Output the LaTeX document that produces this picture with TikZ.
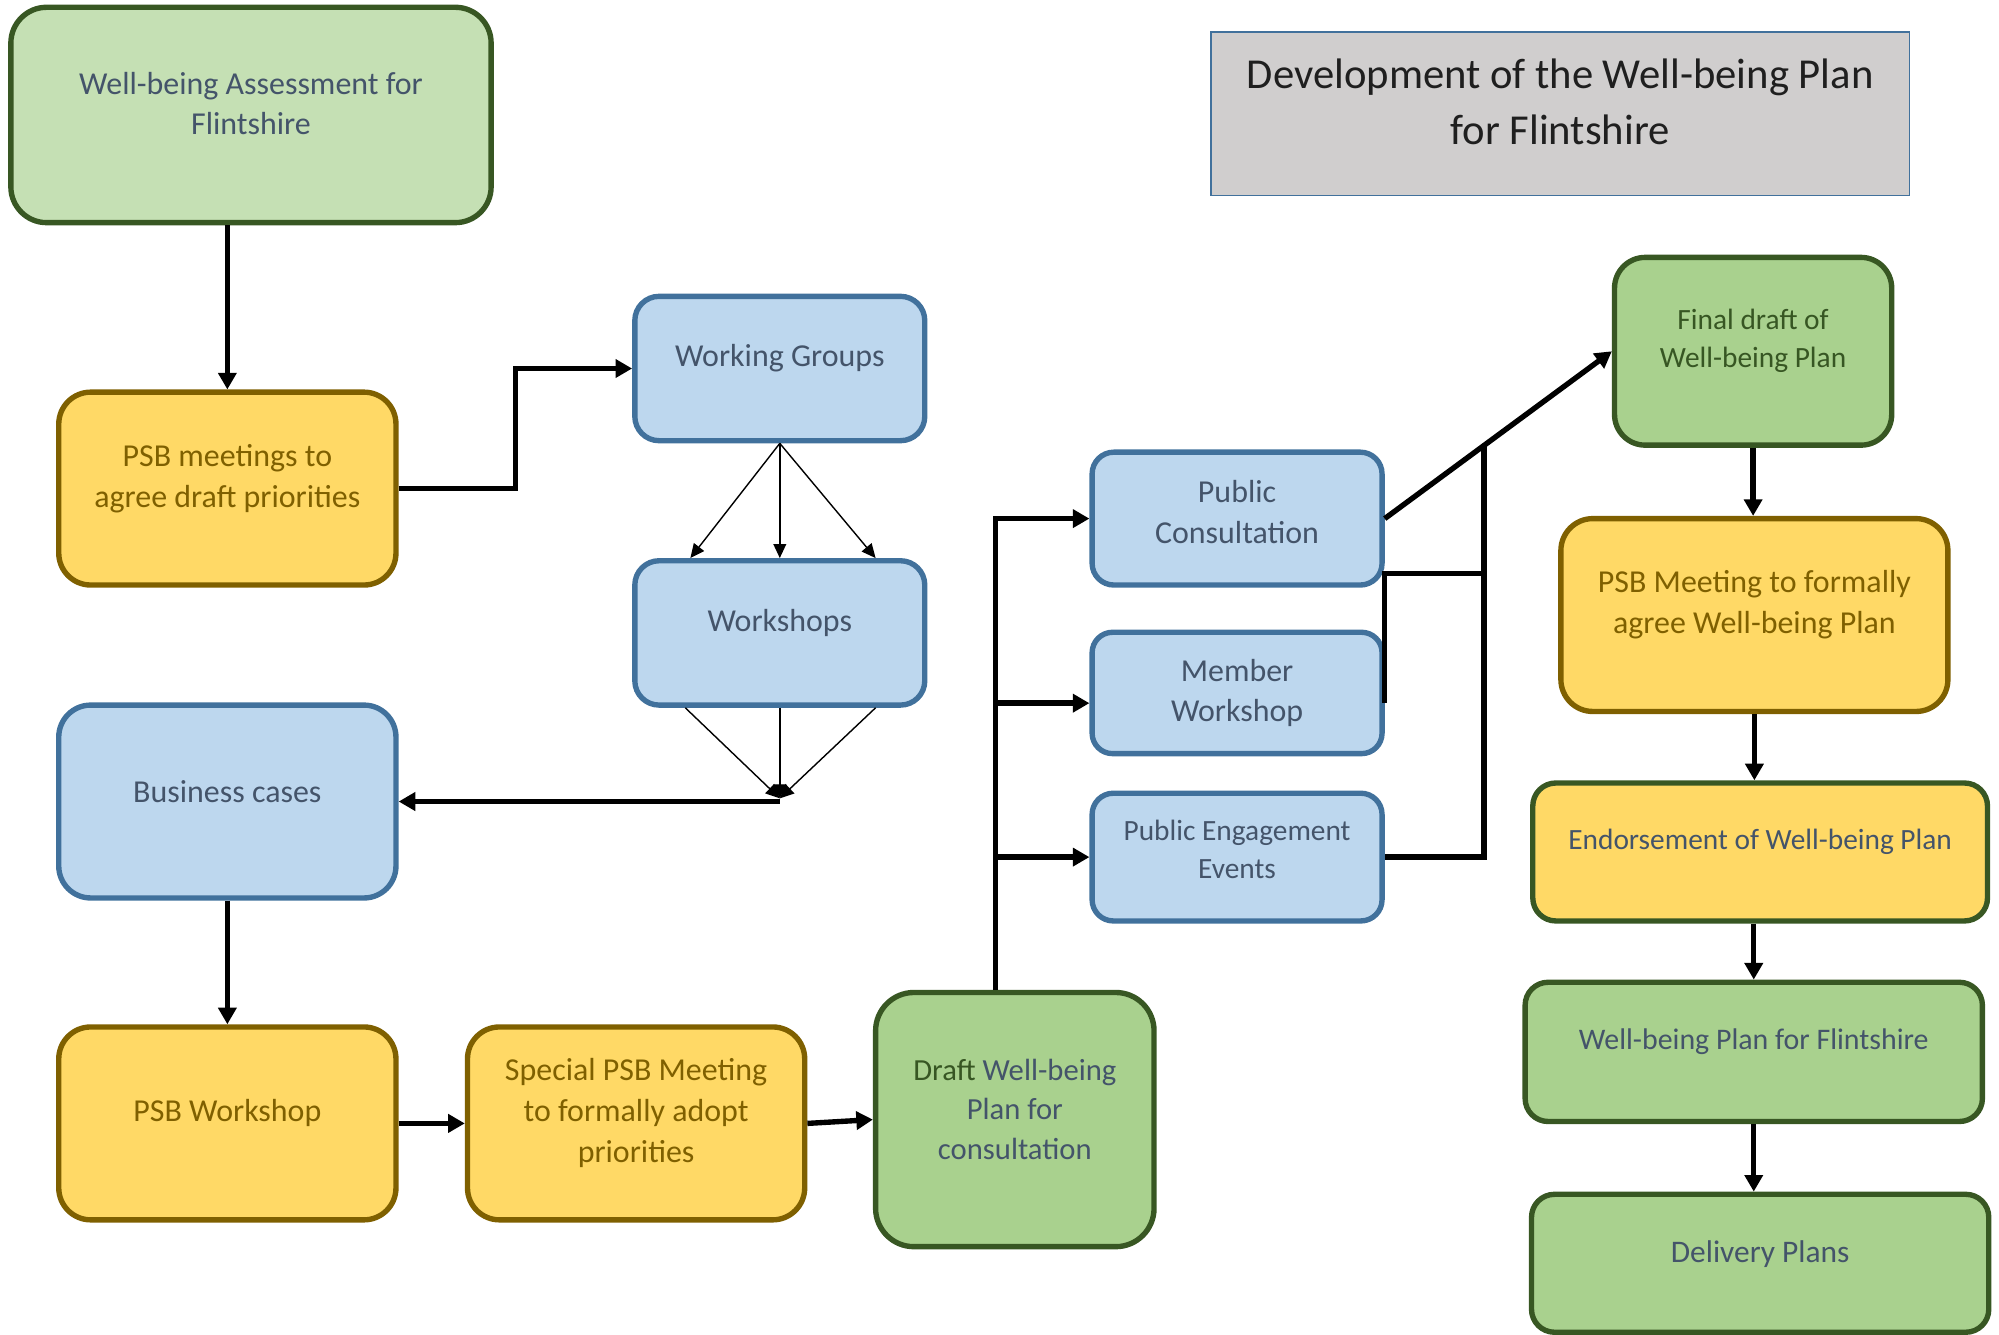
\documentclass[tikz,border=0pt]{standalone}
\usepackage{fontspec}
\setmainfont{Carlito}
\usetikzlibrary{arrows.meta,calc}
\definecolor{gfillA}{HTML}{C5E0B4}
\definecolor{gfill}{HTML}{A9D18E}
\definecolor{gline}{HTML}{385723}
\definecolor{yfill}{HTML}{FFD966}
\definecolor{yline}{HTML}{7F6000}
\definecolor{bfill}{HTML}{BDD7EE}
\definecolor{bline}{HTML}{41719C}
\definecolor{tfill}{HTML}{D0CECE}
\definecolor{tblue}{HTML}{44546A}
\definecolor{tolive}{HTML}{7F6000}
\definecolor{tgreen}{HTML}{375623}
\begin{document}
\begin{tikzpicture}[x=0.5pt,y=-0.5pt,
  boxbase/.style={draw, line width=2.1pt, rectangle, inner sep=0pt},
  gboxA/.style={boxbase, fill=gfillA, draw=gline},
  gbox/.style={boxbase, fill=gfill, draw=gline},
  ybox/.style={boxbase, fill=yfill, draw=yline},
  ygbox/.style={boxbase, fill=yfill, draw=gline},
  bbox/.style={boxbase, fill=bfill, draw=bline},
  titlebox/.style={draw=bline, fill=tfill, line width=0.7pt, rectangle, inner sep=0pt},
  tx/.style={align=center, inner sep=0pt},
  tbig/.style={tx, font=\fontsize{12.5}{16}\selectfont},
  tsmall/.style={tx, font=\fontsize{11.5}{15}\selectfont},
  tmid/.style={tx, font=\fontsize{12}{15.5}\selectfont},
  ttitle/.style={tx, font=\fontsize{16.7}{22}\selectfont, text=black!88},
  conn/.style={line width=2.1pt, draw=black},
  arr/.style={-{Triangle[length=6.5pt,width=7pt]}},
  thinarr/.style={line width=0.55pt, draw=black, -{Triangle[length=5.5pt,width=5pt]}},
]
\useasboundingbox (0,0) rectangle (1565,1045);

% ---------- boxes ----------
\node[titlebox, minimum width=273.5pt, minimum height=64pt] (title) at (1221.5,89) {};
\node[gboxA, minimum width=188pt, minimum height=84.3pt, rounded corners=14pt] (assess) at (196.5,90) {};
\node[ybox, minimum width=132pt, minimum height=75.5pt, rounded corners=12.5pt] (psbm) at (178,382.5) {};
\node[bbox, minimum width=113.5pt, minimum height=56.5pt, rounded corners=9.5pt] (wg) at (610.5,288.5) {};
\node[bbox, minimum width=113.5pt, minimum height=56.5pt, rounded corners=9.5pt] (ws) at (610.5,495.5) {};
\node[bbox, minimum width=132pt, minimum height=75.5pt, rounded corners=12.5pt] (bc) at (178,627.5) {};
\node[ybox, minimum width=132pt, minimum height=75.5pt, rounded corners=12.5pt] (psbw) at (178,879.5) {};
\node[ybox, minimum width=132pt, minimum height=75.5pt, rounded corners=12.5pt] (spec) at (498,879.5) {};
\node[gbox, minimum width=109pt, minimum height=99.5pt, rounded corners=15pt] (draft) at (794.5,876.5) {};
\node[bbox, minimum width=113.5pt, minimum height=52pt, rounded corners=8.5pt] (pc) at (968.5,406) {};
\node[bbox, minimum width=113.5pt, minimum height=47.5pt, rounded corners=8pt] (mw) at (968.5,542.5) {};
\node[bbox, minimum width=113.5pt, minimum height=50pt, rounded corners=8.3pt] (pe) at (968.5,671) {};
\node[gbox, minimum width=108.5pt, minimum height=73.5pt, rounded corners=12pt] (fd) at (1372.5,275) {};
\node[ybox, minimum width=151.5pt, minimum height=75.5pt, rounded corners=12.5pt] (psbf) at (1373.5,481.5) {};
\node[ygbox, minimum width=178pt, minimum height=54pt, rounded corners=9pt] (endo) at (1378,667) {};
\node[gbox, minimum width=179pt, minimum height=54.5pt, rounded corners=9pt] (wbp) at (1373,823.5) {};
\node[gbox, minimum width=179pt, minimum height=54pt, rounded corners=9pt] (dp) at (1378,989) {};

% ---------- texts ----------
\node[ttitle] (title-t) at ([yshift=4.5pt]title.center) {Development of the Well-being Plan\\for Flintshire};
\node[tbig, text=tblue] (assess-t) at ([yshift=4.5pt]assess.center) {Well-being Assessment for\\Flintshire};
\node[tbig, text=tolive] (psbm-t) at ([yshift=4pt]psbm.center) {PSB meetings to\\agree draft priorities};
\node[tbig, text=tblue] (wg-t) at ([yshift=4pt]wg.center) {Working Groups};
\node[tbig, text=tblue] (ws-t) at ([yshift=4pt]ws.center) {Workshops};
\node[tbig, text=tblue] (bc-t) at ([yshift=4pt]bc.center) {Business cases};
\node[tbig, text=tolive] (psbw-t) at ([yshift=4pt]psbw.center) {PSB Workshop};
\node[tbig, text=tolive] (spec-t) at ([yshift=4pt]spec.center) {Special PSB Meeting\\to formally adopt\\priorities};
\node[tmid, text=tblue] (draft-t) at ([yshift=4pt]draft.center) {{\color{tgreen}Draft} Well-being\\Plan for\\consultation};
\node[tbig, text=tblue] (pc-t) at ([yshift=2.5pt]pc.center) {Public\\Consultation};
\node[tbig, text=tblue] (mw-t) at (mw.center) {Member\\Workshop};
\node[tsmall, text=tblue, font=\fontsize{11.5}{14.5}\selectfont] (pe-t) at ([yshift=3pt]pe.center) {Public Engagement\\Events};
\node[tsmall, text=tgreen] (fd-t) at ([yshift=4pt]fd.center) {Final draft of\\Well-being Plan};
\node[tbig, text=tolive] (psbf-t) at ([yshift=4pt]psbf.center) {PSB Meeting to formally\\agree Well-being Plan};
\node[tsmall, text=tblue] (endo-t) at ([yshift=4pt]endo.center) {Endorsement of Well-being Plan};
\node[tsmall, text=tblue, font=\fontsize{11.7}{15}\selectfont] (wbp-t) at ([yshift=4pt]wbp.center) {Well-being Plan for Flintshire};
\node[tbig, text=tblue, font=\fontsize{12.3}{15}\selectfont] (dp-t) at ([yshift=3.5pt]dp.center) {Delivery Plans};

% ---------- connectors ----------
\draw[conn,arr] (psbm.north |- assess.south) -- (psbm.north);
\coordinate (m1) at ($(psbm.east)!0.5!(wg.west)$);
\draw[conn,arr] (psbm.east) -| (m1) |- (wg.west);

\draw[thinarr] (wg.south) -- ([xshift=-35pt]ws.north);
\draw[thinarr] (wg.south) -- (ws.north);
\draw[thinarr] (wg.south) -- ([xshift=37.5pt]ws.north);

\coordinate (cv) at (610.5,625);
\draw[conn,arr] (bc.east -| ws.south) -- (bc.east);
\draw[thinarr] ([xshift=-37pt]ws.south) -- (cv);
\draw[thinarr] (ws.south) -- (cv);
\draw[thinarr] ([xshift=37.5pt]ws.south) -- (cv);

\draw[conn,arr] (bc.south) -- (psbw.north);
\draw[conn,arr] (psbw.east) -- (spec.west);
\draw[conn,arr] (spec.east) -- (draft.west);

\coordinate (dt) at ([xshift=-7.5pt]draft.north);
\draw[conn,arr] (dt) |- (pc.west);
\draw[conn,arr] ([yshift=-4pt]dt |- mw.west) -- ([yshift=-4pt]mw.west);
\draw[conn,arr] (dt |- pe.west) -- (pe.west);

\draw[conn,arr] (pc.east) -- (fd.west);
\coordinate (jn) at ($(pc.east)!0.437!(fd.west)$);
\coordinate (kn) at (jn |- 0,449);
\draw[conn] (jn) -- (jn |- pe.east) -- (pe.east);
\draw[conn] (kn) -- (mw.east |- kn) -- ([yshift=-4pt]mw.east);

\draw[conn,arr] (fd.south) -- (fd.south |- psbf.north);
\draw[conn,arr] (psbf.south) -- (psbf.south |- endo.north);
\draw[conn,arr] (wbp.north |- endo.south) -- (wbp.north);
\draw[conn,arr] (wbp.south) -- (wbp.south |- dp.north);
\end{tikzpicture}
\end{document}
